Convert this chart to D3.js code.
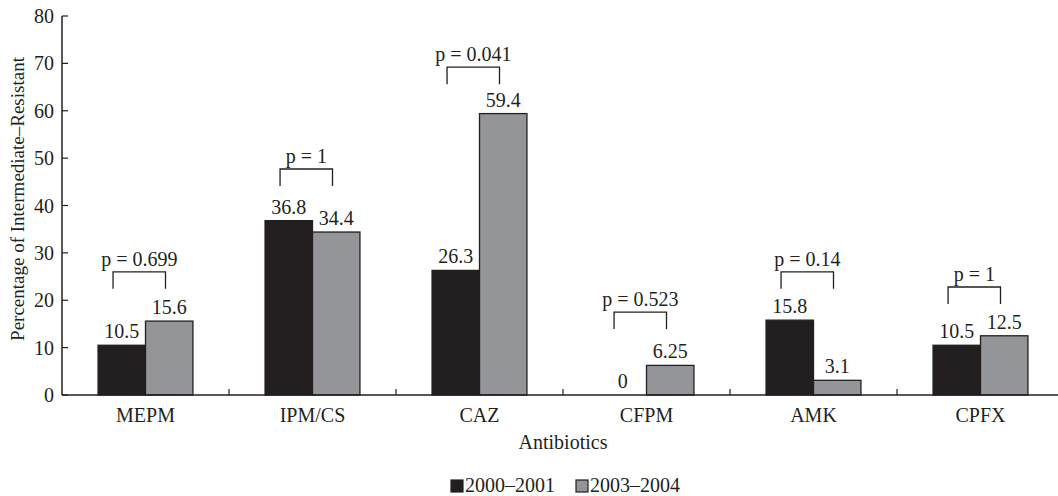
<!DOCTYPE html>
<html>
<head>
<meta charset="utf-8">
<script src="https://cdn.jsdelivr.net/npm/d3@7"></script>
<style>
  body { margin: 0; background: #fff; }
  text { font-family: "Liberation Serif", "Times New Roman", serif; fill: #231f20; font-size: 20px; }
</style>
</head>
<body>
<div id="app"></div>
<script>
// chart data
var categories = ["MEPM", "IPM/CS", "CAZ", "CFPM", "AMK", "CPFX"];
var series = ["2000\u20132001", "2003\u20132004"];
var values2000 = [10.5, 36.8, 26.3, 0, 15.8, 10.5];
var values2003 = [15.6, 34.4, 59.4, 6.25, 3.1, 12.5];
var valueLabels2000 = ["10.5", "36.8", "26.3", "0", "15.8", "10.5"];
var valueLabels2003 = ["15.6", "34.4", "59.4", "6.25", "3.1", "12.5"];
var pValues = ["p = 0.699", "p = 1", "p = 0.041", "p = 0.523", "p = 0.14", "p = 1"];
var bracketLevel = [26, 47.7, 69.2, 17.5, 26, 22.8];
var yTicks = [0, 10, 20, 30, 40, 50, 60, 70, 80];

var width = 1058, height = 496;
var colors = ["#231f20", "#939598"];

var svg = d3.select("#app").append("svg")
  .attr("width", width)
  .attr("height", height);

var x0 = d3.scaleBand()
  .domain(categories)
  .range([62, 1064])
  .paddingInner(0)
  .paddingOuter(0);

var x1 = d3.scaleBand()
  .domain(series)
  .range([0, x0.bandwidth()])
  .paddingInner(0)
  .paddingOuter(0.76);

var y = d3.scaleLinear()
  .domain([0, 80])
  .range([395, 16]);

// y axis
svg.append("line")
  .attr("x1", 62).attr("x2", 62)
  .attr("y1", y(80)).attr("y2", y(0))
  .attr("stroke", "#231f20").attr("stroke-width", 1.5);

svg.selectAll(".ytick")
  .data(yTicks)
  .enter().append("line")
  .attr("class", "ytick")
  .attr("x1", 62).attr("x2", 68)
  .attr("y1", d => y(d)).attr("y2", d => y(d))
  .attr("stroke", "#231f20").attr("stroke-width", 1.2);

svg.selectAll(".ylabel")
  .data(yTicks)
  .enter().append("text")
  .attr("class", "ylabel")
  .attr("x", 54)
  .attr("y", d => y(d))
  .attr("dy", "0.35em")
  .attr("text-anchor", "end")
  .text(d => d);

svg.append("text")
  .attr("transform", "translate(24," + 199 + ") rotate(-90)")
  .attr("text-anchor", "middle")
  .style("font-size", "19px")
  .text("Percentage of Intermediate\u2013Resistant");

// bars
var rows = categories.map((c, i) => ({
  cat: c,
  vals: [values2000[i], values2003[i]],
  labels: [valueLabels2000[i], valueLabels2003[i]],
  p: pValues[i],
  level: bracketLevel[i]
}));

var groups = svg.selectAll(".grp")
  .data(rows)
  .enter().append("g")
  .attr("class", "grp")
  .attr("transform", d => "translate(" + x0(d.cat) + ",0)");

groups.selectAll("rect")
  .data(d => d.vals.map((v, j) => ({ s: series[j], v: v, j: j })))
  .enter().append("rect")
  .filter(d => d.v > 0)
  .attr("x", d => x1(d.s))
  .attr("y", d => y(d.v))
  .attr("width", x1.bandwidth())
  .attr("height", d => y(0) - y(d.v))
  .attr("fill", d => colors[d.j])
  .attr("stroke", "#231f20")
  .attr("stroke-width", 1.3);

groups.selectAll(".vlabel")
  .data(d => d.vals.map((v, j) => ({ s: series[j], v: v, t: d.labels[j] })))
  .enter().append("text")
  .attr("class", "vlabel")
  .attr("x", d => x1(d.s) + x1.bandwidth() / 2)
  .attr("y", d => y(d.v) - 7)
  .attr("text-anchor", "middle")
  .text(d => d.t);

// significance brackets
var legLen = 17;
groups.append("path")
  .attr("d", d => {
    var xa = x1(series[0]) + 15, xb = x1(series[1]) + 20, yt = y(d.level);
    return "M" + xa + "," + (yt + legLen) + "V" + yt + "H" + xb + "V" + (yt + legLen);
  })
  .attr("fill", "none")
  .attr("stroke", "#231f20")
  .attr("stroke-width", 1.3);

groups.append("text")
  .attr("x", (x1(series[0]) + 15 + x1(series[1]) + 20) / 2)
  .attr("y", d => y(d.level) - 6)
  .attr("text-anchor", "middle")
  .text(d => d.p);

// x axis
svg.append("line")
  .attr("x1", 62).attr("x2", 1064)
  .attr("y1", y(0)).attr("y2", y(0))
  .attr("stroke", "#231f20").attr("stroke-width", 1.5);

svg.selectAll(".xtick")
  .data(categories.slice(1))
  .enter().append("line")
  .attr("class", "xtick")
  .attr("x1", d => x0(d)).attr("x2", d => x0(d))
  .attr("y1", y(0)).attr("y2", y(0) - 6)
  .attr("stroke", "#231f20").attr("stroke-width", 1.2);

svg.selectAll(".xlabel")
  .data(categories)
  .enter().append("text")
  .attr("class", "xlabel")
  .attr("x", d => x0(d) + x0.bandwidth() / 2)
  .attr("y", 422)
  .attr("text-anchor", "middle")
  .text(d => d);

svg.append("text")
  .attr("x", (62 + 1064) / 2)
  .attr("y", 449)
  .attr("text-anchor", "middle")
  .text("Antibiotics");

// legend
var legendX = [451, 576];
var legend = svg.selectAll(".legend")
  .data(series)
  .enter().append("g")
  .attr("class", "legend")
  .attr("transform", (d, i) => "translate(" + legendX[i] + ",480)");

legend.append("rect")
  .attr("width", 12).attr("height", 12)
  .attr("fill", (d, i) => colors[i])
  .attr("stroke", "#231f20").attr("stroke-width", 1.2);

legend.append("text")
  .attr("x", 14)
  .attr("y", 12)
  .text(d => d);
</script>
</body>
</html>
